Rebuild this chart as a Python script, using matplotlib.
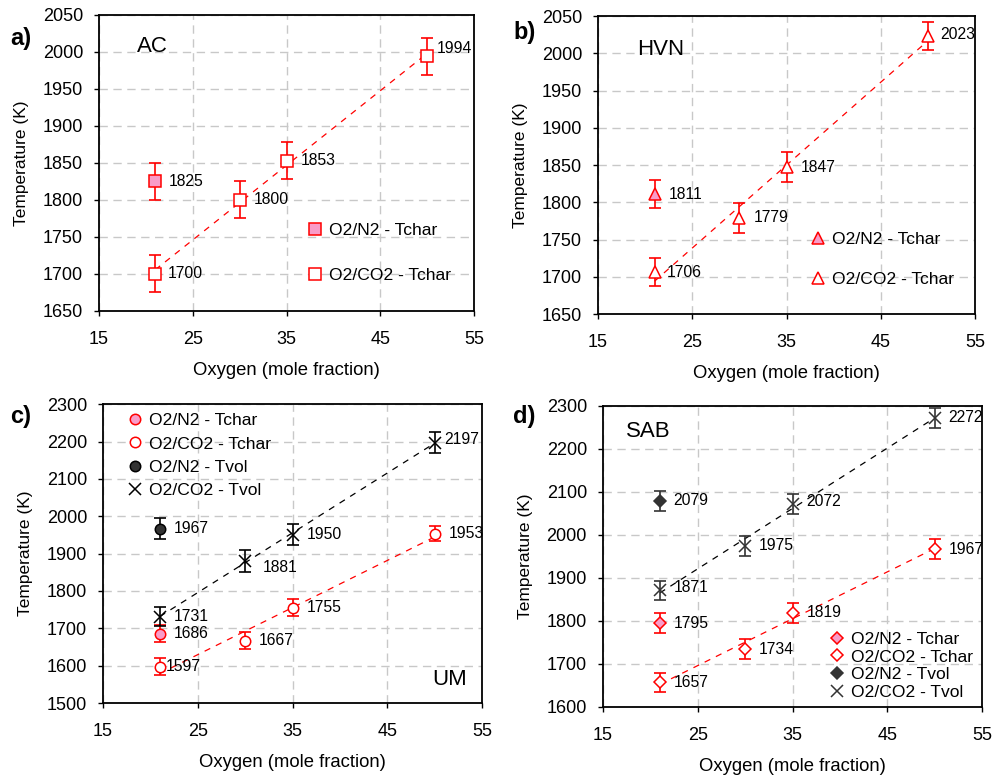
import numpy as np
import matplotlib
matplotlib.use("Agg")
import matplotlib.pyplot as plt

plt.rcParams["font.family"] = ["Liberation Sans", "DejaVu Sans"]

# ---- data ----
o2 = [21, 30, 35, 50]
o2_air = [21]

# a) AC
ac_n2_char = [1825]
ac_co2_char = [1700, 1800, 1853, 1994]
ac_err_n2 = [25]
ac_err_co2 = [25, 25, 25, 25]

# b) HVN
hvn_n2_char = [1811]
hvn_co2_char = [1706, 1779, 1847, 2023]
hvn_err_n2 = [19]
hvn_err_co2 = [19, 20, 20, 19]

# c) UM
um_n2_char = [1686]
um_co2_char = [1597, 1667, 1755, 1953]
um_n2_vol = [1967]
um_co2_vol = [1731, 1881, 1950, 2197]
um_err_n2_char = [23]
um_err_co2_char = [23, 23, 23, 20]
um_err_n2_vol = [28]
um_err_co2_vol = [26, 29, 28, 28]

# d) SAB
sab_n2_char = [1795]
sab_co2_char = [1657, 1734, 1819, 1967]
sab_n2_vol = [2079]
sab_co2_vol = [1871, 1975, 2072, 2272]
sab_err = 23

RED = "#FF0000"
PINK = "#F99CC8"
DARK = "#333333"

fig = plt.figure(figsize=(9.95, 7.78), dpi=100)

axes = {
    "a": fig.add_axes([0.0995, 0.6003, 0.377, 0.3805]),
    "b": fig.add_axes([0.601, 0.5964, 0.379, 0.383]),
    "c": fig.add_axes([0.1035, 0.0964, 0.381, 0.384]),
    "d": fig.add_axes([0.606, 0.0913, 0.381, 0.387]),
}


def style_axes(ax, ylo, yhi, ystep):
    ax.set_xlim(15, 55)
    ax.set_ylim(ylo, yhi)
    ax.set_xticks([15, 25, 35, 45, 55])
    ax.set_yticks(np.arange(ylo, yhi + 1, ystep))
    ax.grid(True, color="#C8C8C8", linestyle=(0, (6, 4)), linewidth=1.0)
    ax.set_axisbelow(True)
    ax.tick_params(direction="out", length=3.5, width=1, labelsize=13)
    ax.tick_params(axis="x", pad=11)
    ax.tick_params(axis="y", pad=8)
    for s in ax.spines.values():
        s.set_linewidth(1.3)
    ax.set_xlabel("Oxygen (mole fraction)", fontsize=13.3, labelpad=10)
    ax.set_ylabel("Temperature (K)", fontsize=12.5, labelpad=10)


def trend(ax, x, y, color):
    k, b = np.polyfit(x, y, 1)
    xs = np.array([min(x), max(x)])
    ax.plot(xs, k * xs + b, color=color, linestyle=(0, (5, 5)), linewidth=0.9, zorder=2)


def series(ax, x, y, err, color, marker, face, ms, label):
    ax.errorbar(x, y, yerr=err, fmt="none", ecolor=color, elinewidth=1.2,
                capsize=4.5, capthick=1.2, zorder=3)
    ax.plot(x, y, linestyle="none", marker=marker, markersize=ms,
            markerfacecolor=face, markeredgecolor=color, markeredgewidth=1.1,
            label=label, zorder=4)


def labels(ax, x, y, offsets=None):
    for i, (xi, yi) in enumerate(zip(x, y)):
        dx, dy = (10, 0)
        if offsets and i in offsets:
            dx, dy = offsets[i]
        ax.annotate(str(yi), (xi, yi), xytext=(dx, dy), textcoords="offset points",
                    ha="left", va="center", fontsize=11.3)


leg_kw = dict(frameon=False, fontsize=12.6, handlelength=1.0, handletextpad=0.3,
              borderpad=0, borderaxespad=0)

# ---- a) AC ----
ax = axes["a"]
style_axes(ax, 1650, 2050, 50)
trend(ax, o2, ac_co2_char, RED)
series(ax, o2_air, ac_n2_char, ac_err_n2, RED, "s", PINK, 8, "O2/N2 - Tchar")
series(ax, o2, ac_co2_char, ac_err_co2, RED, "s", "white", 8, "O2/CO2 - Tchar")
labels(ax, o2_air, ac_n2_char)
labels(ax, o2, ac_co2_char, {0: (9, 0), 3: (7, 6)})
ax.legend(loc="center left", bbox_to_anchor=(0.553, 0.196), labelspacing=1.7, **leg_kw)
ax.text(0.101, 0.892, "AC", transform=ax.transAxes, fontsize=16, va="center", ha="left")

# ---- b) HVN ----
ax = axes["b"]
style_axes(ax, 1650, 2050, 50)
trend(ax, o2, hvn_co2_char, RED)
series(ax, o2_air, hvn_n2_char, hvn_err_n2, RED, "^", PINK, 8.5, "O2/N2 - Tchar")
series(ax, o2, hvn_co2_char, hvn_err_co2, RED, "^", "white", 8.5, "O2/CO2 - Tchar")
labels(ax, o2_air, hvn_n2_char)
labels(ax, o2, hvn_co2_char, {0: (9, 0), 3: (9, 1)})
ax.legend(loc="center left", bbox_to_anchor=(0.561, 0.183), labelspacing=1.45, **leg_kw)
ax.text(0.103, 0.886, "HVN", transform=ax.transAxes, fontsize=16, va="center", ha="left")

# ---- c) UM ----
ax = axes["c"]
style_axes(ax, 1500, 2300, 100)
trend(ax, o2, um_co2_char, RED)
trend(ax, o2, um_co2_vol, "black")
series(ax, o2_air, um_n2_char, um_err_n2_char, RED, "o", PINK, 7.5, "O2/N2 - Tchar")
series(ax, o2, um_co2_char, um_err_co2_char, RED, "o", "white", 7.5, "O2/CO2 - Tchar")
series(ax, o2_air, um_n2_vol, um_err_n2_vol, "black", "o", DARK, 7.5, "O2/N2 - Tvol")
series(ax, o2, um_co2_vol, um_err_co2_vol, "black", "x", "none", 8, "O2/CO2 - Tvol")
labels(ax, o2_air, um_n2_char)
labels(ax, o2, um_co2_char, {0: (4, 0)})
labels(ax, o2_air, um_n2_vol)
labels(ax, o2, um_co2_vol, {1: (13, -5), 3: (7, 2)})
ax.legend(loc="upper left", bbox_to_anchor=(0.061, 0.97), labelspacing=0.45, **leg_kw)
ax.text(0.96, 0.077, "UM", transform=ax.transAxes, fontsize=16, va="center", ha="right")

# ---- d) SAB ----
ax = axes["d"]
style_axes(ax, 1600, 2300, 100)
trend(ax, o2, sab_co2_char, RED)
trend(ax, o2, sab_co2_vol, "black")
series(ax, o2_air, sab_n2_char, sab_err, RED, "D", PINK, 6.3, "O2/N2 - Tchar")
series(ax, o2, sab_co2_char, sab_err, RED, "D", "white", 6.3, "O2/CO2 - Tchar")
series(ax, o2_air, sab_n2_vol, sab_err, DARK, "D", DARK, 6.3, "O2/N2 - Tvol")
series(ax, o2, sab_co2_vol, sab_err, DARK, "x", "none", 8, "O2/CO2 - Tvol")
labels(ax, o2_air, sab_n2_char)
labels(ax, o2, sab_co2_char)
labels(ax, o2_air, sab_n2_vol)
labels(ax, o2, sab_co2_vol, {0: (10, 2), 2: (10, 2)})
ax.legend(loc="lower left", bbox_to_anchor=(0.595, 0.022), labelspacing=0.15, **leg_kw)
ax.text(0.061, 0.914, "SAB", transform=ax.transAxes, fontsize=16, va="center", ha="left")

# panel letters
for letter, (px, py) in {"a)": (10, 38), "b)": (513, 33), "c)": (10, 417), "d)": (513, 417)}.items():
    fig.text(px / 995, 1 - py / 778, letter, fontsize=17, fontweight="bold",
             ha="left", va="center")

fig.savefig("out.png", dpi=100)
